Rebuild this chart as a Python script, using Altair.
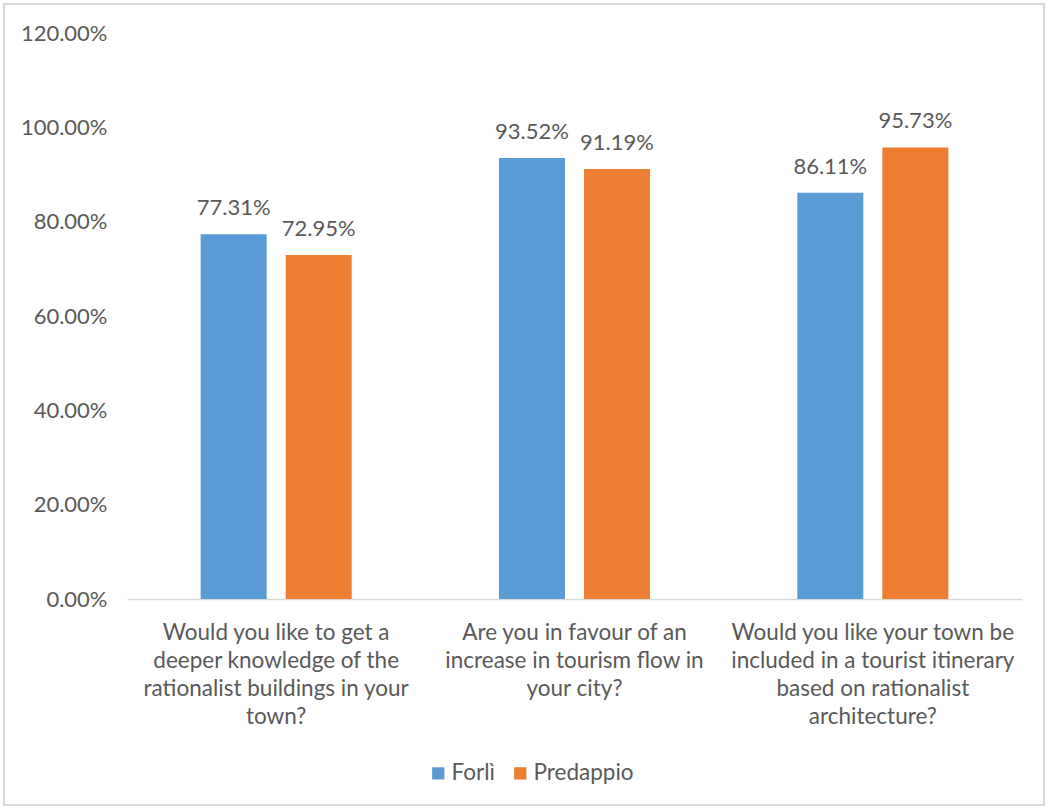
import altair as alt
import pandas as pd

categories = [
    "Would you like to get a|deeper knowledge of the|rationalist buildings in your|town?",
    "Are you in favour of an|increase in tourism flow in|your city?",
    "Would you like your town be|included in a tourist itinerary|based on rationalist|architecture?",
]
series = ["Forlì", "Predappio"]
forli = [0.7731, 0.9352, 0.8611]
predappio = [0.7295, 0.9119, 0.9573]
colors = ["#5B9BD5", "#ED7D31"]

rows = []
for i, c in enumerate(categories):
    rows.append({"q": c, "s": series[0], "v": forli[i]})
    rows.append({"q": c, "s": series[1], "v": predappio[i]})
df = pd.DataFrame(rows)

FONT = "Lato"
W, H = 895, 566

base = alt.Chart(df).encode(
    x=alt.X("q:N", sort=categories, title=None,
            scale=alt.Scale(paddingInner=0, paddingOuter=0),
            axis=alt.Axis(labelExpr="split(datum.label, '|')", labelAngle=0,
                          labelFont=FONT, labelFontSize=22.5, labelColor="#595959",
                          labelLineHeight=28, labelPadding=22, labelLimit=400,
                          ticks=False, domainColor="#D9D9D9", domainWidth=1.5)),
    xOffset=alt.XOffset("s:N", sort=series,
                        scale=alt.Scale(paddingInner=0.2235, paddingOuter=0.866)),
)

bars = base.mark_bar().encode(
    y=alt.Y("v:Q", title=None,
            scale=alt.Scale(domain=[0, 1.2], nice=False),
            axis=alt.Axis(values=[0, 0.2, 0.4, 0.6, 0.8, 1.0, 1.2], format=".2%",
                          labelFont=FONT, labelFontSize=22, labelColor="#595959",
                          labelPadding=20, ticks=False, domain=False, grid=False)),
    color=alt.Color("s:N", sort=series, title=None,
                    scale=alt.Scale(domain=series, range=colors),
                    legend=alt.Legend(orient="none", direction="horizontal",
                                      legendX=300, legendY=729,
                                      symbolType="square", symbolSize=150,
                                      symbolStrokeWidth=0,
                                      labelFont=FONT, labelFontSize=22.5,
                                      labelColor="#595959", columnPadding=14,
                                      labelOffset=2)),
)

labels = base.mark_text(baseline="bottom", dy=-14, font=FONT, fontSize=22,
                        color="#595959").encode(
    y=alt.Y("v:Q"),
    text=alt.Text("v:Q", format=".2%"),
)

border = alt.Chart(alt.Data(values=[{}])).mark_rect(
    fill=None, stroke="#D9D9D9", strokeWidth=2
).encode(
    x=alt.value(-123), x2=alt.value(1044 - 127),
    y=alt.value(4 - 33), y2=alt.value(805 - 33),
)

chart = alt.layer(border, bars, labels).properties(
    width=W, height=H,
    autosize=alt.AutoSizeParams(type="none"),
    padding={"left": 127, "top": 33, "right": 1050 - 127 - W, "bottom": 810 - 33 - H},
    background="white",
).configure_view(stroke=None)

chart.save("out.html", embed_options={"renderer": "svg", "actions": False})
